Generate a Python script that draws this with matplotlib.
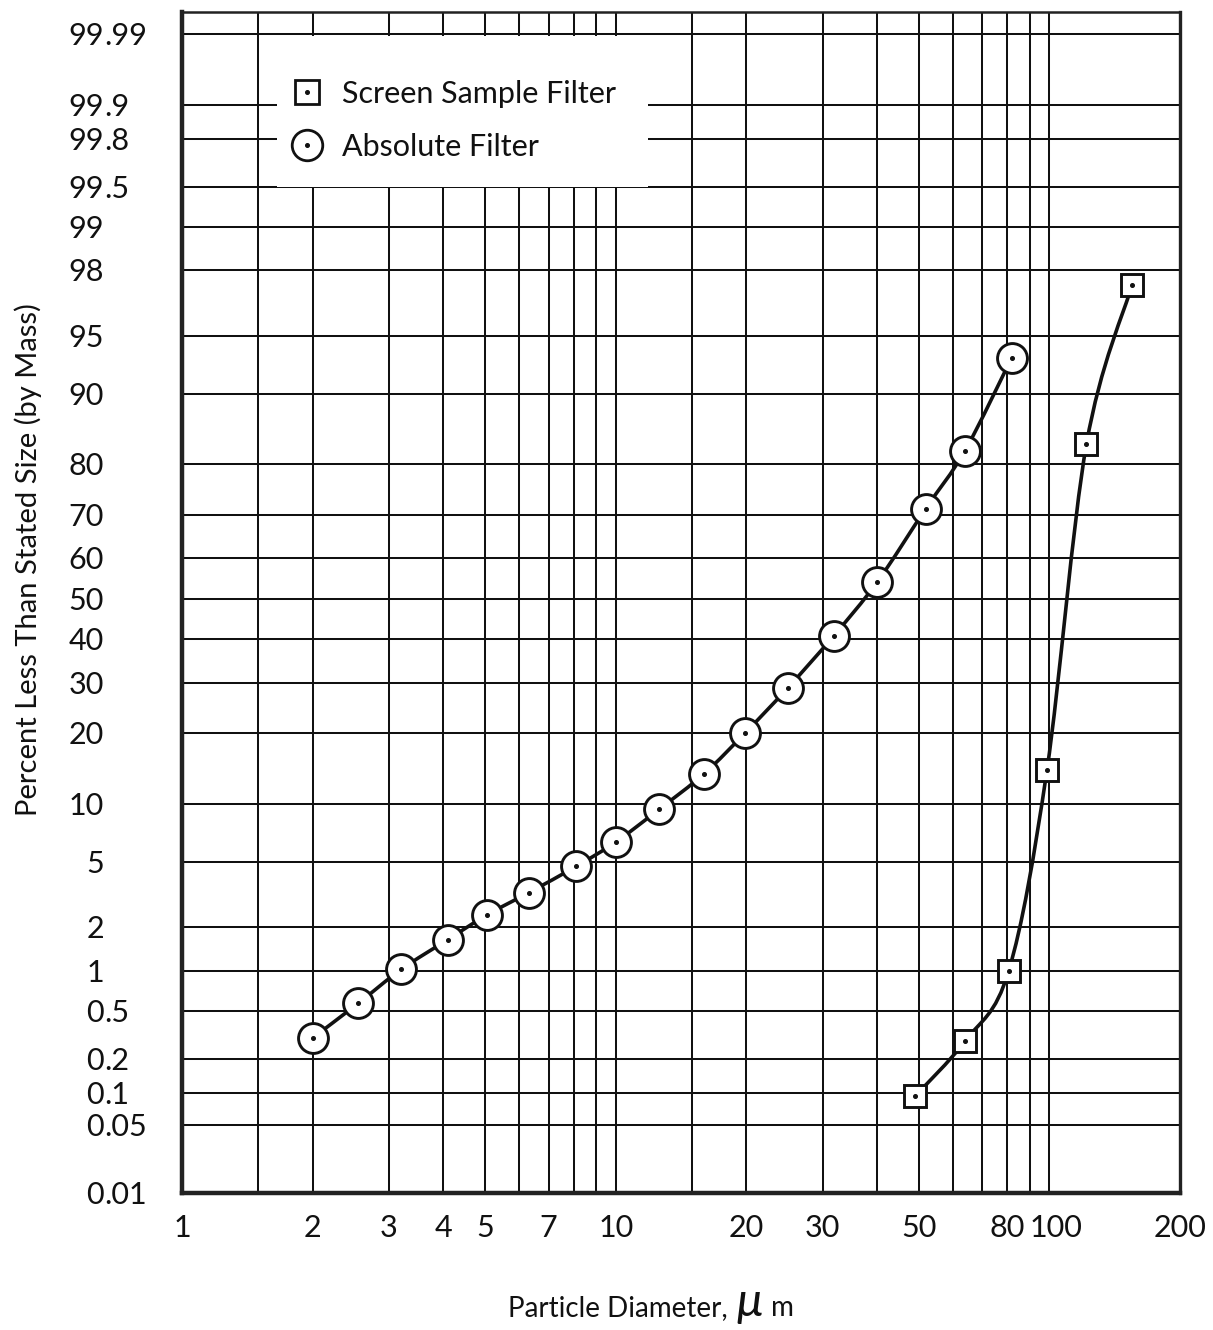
import math
import numpy as np
import matplotlib
matplotlib.use("Agg")
import matplotlib.pyplot as plt
from matplotlib.lines import Line2D
from matplotlib.patches import Rectangle, PathPatch
from matplotlib.path import Path
from matplotlib.transforms import blended_transform_factory, ScaledTranslation

# ---------------------------------------------------------------------------
# Data: particle diameter (um) vs. cumulative mass percent finer
# ---------------------------------------------------------------------------
abs_diam = [2.0, 2.55, 3.2, 4.1, 5.05, 6.3, 8.1, 10.0, 12.6, 16.0, 19.9,
            24.9, 31.8, 40.1, 51.8, 63.9, 81.8]
abs_pct = [0.30, 0.57, 1.02, 1.65, 2.4, 3.3, 4.7, 6.4, 9.4, 13.7, 20.1,
           28.8, 40.8, 54.2, 71.3, 82.3, 93.4]

screen_diam = [49.0, 64.0, 80.5, 98.7, 121.7, 155.0]
screen_pct = [0.093, 0.285, 0.99, 14.2, 83.3, 97.5]

# Axis ticks / grid
x_grid = [1, 1.5, 2, 3, 4, 5, 6, 7, 8, 9, 10, 15, 20, 30, 40, 50, 60, 70,
          80, 90, 100, 200]
x_labels = [1, 2, 3, 4, 5, 7, 10, 20, 30, 50, 80, 100, 200]
y_ticks = [0.01, 0.05, 0.1, 0.2, 0.5, 1, 2, 5, 10, 20, 30, 40, 50, 60, 70,
           80, 90, 95, 98, 99, 99.5, 99.8, 99.9, 99.99]
y_labels = ["0.01", "0.05", "0.1", "0.2", "0.5", "1", "2", "5", "10", "20",
            "30", "40", "50", "60", "70", "80", "90", "95", "98", "99",
            "99.5", "99.8", "99.9", "99.99"]

# ---------------------------------------------------------------------------
# Probability (normal-quantile) scale, with the top band above 99.9 % drawn
# compressed as on the printed probability paper.
# ---------------------------------------------------------------------------
_erfc = np.vectorize(math.erfc, otypes=[float])

_A = [-3.969683028665376e+01, 2.209460984245205e+02, -2.759285104469687e+02,
      1.383577518672690e+02, -3.066479806614716e+01, 2.506628277459239e+00]
_B = [-5.447609879822406e+01, 1.615858368580409e+02, -1.556989798598866e+02,
      6.680131188771972e+01, -1.328068155288572e+01]
_C = [-7.784894002430293e-03, -3.223964580411365e-01, -2.400758277161838e+00,
      -2.549732539343734e+00, 4.374664141464968e+00, 2.938163982698783e+00]
_D = [7.784695709041462e-03, 3.224671290700398e-01, 2.445134137142996e+00,
      3.754408661907416e+00]


def _ncdf(z):
    return 0.5 * _erfc(-np.asarray(z, float) / math.sqrt(2.0))


def _ppf(q):
    q = np.clip(np.asarray(q, float), 1e-15, 1 - 1e-15)
    x = np.full(q.shape, np.nan)
    plow = 0.02425
    lo = q < plow
    hi = q > 1 - plow
    mid = ~(lo | hi) & np.isfinite(q)

    def tail(r):
        num = ((((_C[0] * r + _C[1]) * r + _C[2]) * r + _C[3]) * r + _C[4]) * r + _C[5]
        den = (((_D[0] * r + _D[1]) * r + _D[2]) * r + _D[3]) * r + 1
        return num / den

    if lo.any():
        x[lo] = tail(np.sqrt(-2 * np.log(q[lo])))
    if hi.any():
        x[hi] = -tail(np.sqrt(-2 * np.log(1 - q[hi])))
    if mid.any():
        r = q[mid] - 0.5
        s = r * r
        num = (((((_A[0] * s + _A[1]) * s + _A[2]) * s + _A[3]) * s + _A[4]) * s + _A[5]) * r
        den = ((((_B[0] * s + _B[1]) * s + _B[2]) * s + _B[3]) * s + _B[4]) * s + 1
        x[mid] = num / den
    ok = np.isfinite(x)
    if ok.any():
        e = _ncdf(x[ok]) - q[ok]
        u = e * math.sqrt(2 * math.pi) * np.exp(x[ok] ** 2 / 2)
        x[ok] = x[ok] - u / (1 + x[ok] * u / 2)
    return x


Z_BREAK = 3.0902   # quantile of 99.9 %
K_TOP = 0.70       # compression of the band above 99.9 %


def prob_forward(p):
    z = _ppf(np.asarray(p, float) / 100.0)
    return np.where(z > Z_BREAK, Z_BREAK + (z - Z_BREAK) * K_TOP, z)


def prob_inverse(y):
    y = np.asarray(y, float)
    z = np.where(y > Z_BREAK, Z_BREAK + (y - Z_BREAK) / K_TOP, y)
    return 100.0 * _ncdf(z)


def smooth_curve(xs, ys):
    """Catmull-Rom curve through the points, built in the log / probability
    space of the axes and handed back as a Bezier path in data units."""
    pts = np.column_stack([np.log10(xs), prob_forward(ys)])
    n = len(pts)
    verts, codes = [pts[0]], [Path.MOVETO]
    for i in range(n - 1):
        p0 = pts[max(i - 1, 0)]
        p1, p2 = pts[i], pts[i + 1]
        p3 = pts[min(i + 2, n - 1)]
        verts += [p1 + (p2 - p0) / 6.0, p2 - (p3 - p1) / 6.0, p2]
        codes += [Path.CURVE4] * 3
    verts = np.array(verts)
    data = np.column_stack([10 ** verts[:, 0], prob_inverse(verts[:, 1])])
    return Path(data, codes)


# ---------------------------------------------------------------------------
# Figure
# ---------------------------------------------------------------------------
FONT = ["Lato", "DejaVu Sans"]
plt.rcParams["font.family"] = FONT
INK = "#111111"

W, H = 1213, 1330
fig = plt.figure(figsize=(W / 100, H / 100), dpi=100)
fig.patch.set_facecolor("white")

ax_left, ax_right, ax_top, ax_bottom = 182, 1180, 12.3, 1193.3
ax = fig.add_axes([ax_left / W, 1 - ax_bottom / H,
                   (ax_right - ax_left) / W, (ax_bottom - ax_top) / H])

ax.set_xscale("log")
ax.set_yscale("function", functions=(prob_forward, prob_inverse))
ax.set_xlim(1, 200)
ax.set_ylim(0.01, 99.9955)

# grid
ax.set_xticks(x_grid)
ax.set_xticks([], minor=True)
ax.set_yticks(y_ticks)
ax.set_yticks([], minor=True)
ax.tick_params(which="both", length=0, labelbottom=False, labelleft=False)
ax.grid(True, which="major", color=INK, linewidth=1.45)
ax.set_axisbelow(True)

for side, lw in (("left", 3.2), ("bottom", 3.2), ("right", 2.4), ("top", 1.8)):
    ax.spines[side].set_linewidth(lw)
    ax.spines[side].set_color("#222222")

# blank panel behind the key
ax.add_patch(Rectangle(((277 - ax_left) / (ax_right - ax_left), (ax_bottom - 187) / (ax_bottom - ax_top)),
                       (648 - 277) / (ax_right - ax_left), (187 - 36) / (ax_bottom - ax_top),
                       transform=ax.transAxes, facecolor="white", edgecolor="none",
                       zorder=1.5))

# curves
for xs, ys in ((abs_diam, abs_pct), (screen_diam, screen_pct)):
    ax.add_patch(PathPatch(smooth_curve(xs, ys), facecolor="none",
                           edgecolor=INK, linewidth=2.6, zorder=3,
                           joinstyle="round", capstyle="round"))

# markers
ax.plot(abs_diam, abs_pct, linestyle="none", marker="o", markersize=21.5,
        markerfacecolor="white", markeredgecolor=INK, markeredgewidth=2.1,
        zorder=4)
ax.plot(screen_diam, screen_pct, linestyle="none", marker="s", markersize=15.5,
        markerfacecolor="white", markeredgecolor=INK, markeredgewidth=2.1,
        zorder=4)
ax.plot(abs_diam + screen_diam, abs_pct + screen_pct, linestyle="none",
        marker="o", markersize=2.6, color=INK, zorder=5)

# key
sq = Line2D([], [], linestyle="none", marker="s", markersize=17.5,
            markerfacecolor="white", markeredgecolor=INK, markeredgewidth=2.0)
ci = Line2D([], [], linestyle="none", marker="o", markersize=22,
            markerfacecolor="white", markeredgecolor=INK, markeredgewidth=2.0)
dot = Line2D([], [], linestyle="none", marker="o", markersize=2.6, color=INK)
leg = ax.legend([(sq, dot), (ci, dot)], ["Screen Sample Filter", "Absolute Filter"],
                loc="upper left",
                bbox_to_anchor=((289 - ax_left) / (ax_right - ax_left),
                                (ax_bottom - 80) / (ax_bottom - ax_top)),
                frameon=False, fontsize=22, handlelength=1.2, handletextpad=0.55,
                labelspacing=0.82, borderpad=0, borderaxespad=0)
for t in leg.get_texts():
    t.set_color(INK)

# tick labels: y labels aligned on the decimal point
TICK_FS = 22
ytrans = blended_transform_factory(fig.transFigure, ax.transData) + \
    ScaledTranslation(0, -11.0 / 100, fig.dpi_scale_trans)
x_point = 104 / W
for val, lab in zip(y_ticks, y_labels):
    if "." in lab:
        ip, fp = lab.split(".")
        ax.text(x_point, val, ip, transform=ytrans, ha="right", va="baseline",
                fontsize=TICK_FS, color=INK, clip_on=False)
        ax.text(x_point, val, "." + fp, transform=ytrans, ha="left", va="baseline",
                fontsize=TICK_FS, color=INK, clip_on=False)
    else:
        ax.text(x_point, val, lab, transform=ytrans, ha="right", va="baseline",
                fontsize=TICK_FS, color=INK, clip_on=False)

# x labels; "100" nudged right so it clears "80"
x_nudge = {100: 7}
for val in x_labels:
    tr = blended_transform_factory(ax.transData, fig.transFigure) + \
        ScaledTranslation(x_nudge.get(val, 0) / 100, 0, fig.dpi_scale_trans)
    ax.text(val, 1 - 1237 / H, str(val), transform=tr, ha="center",
            va="baseline", fontsize=TICK_FS, color=INK, clip_on=False)

# axis titles
fig.text(28 / W, 1 - 560 / H, "Percent Less Than Stated Size (by Mass)",
         rotation=90, ha="center", va="center", fontsize=21, color=INK)
fig.text(735 / W, 1 - 1316 / H, "Particle Diameter, ", ha="right",
         va="baseline", fontsize=20, color=INK)
fig.text(737 / W, 1 - 1316 / H, "\u03bc", ha="left", va="baseline",
         fontsize=34, style="italic", color=INK)
fig.text(771 / W, 1 - 1316 / H, "m", ha="left", va="baseline",
         fontsize=20, color=INK)

fig.savefig("out.png", dpi=100, facecolor="white")
